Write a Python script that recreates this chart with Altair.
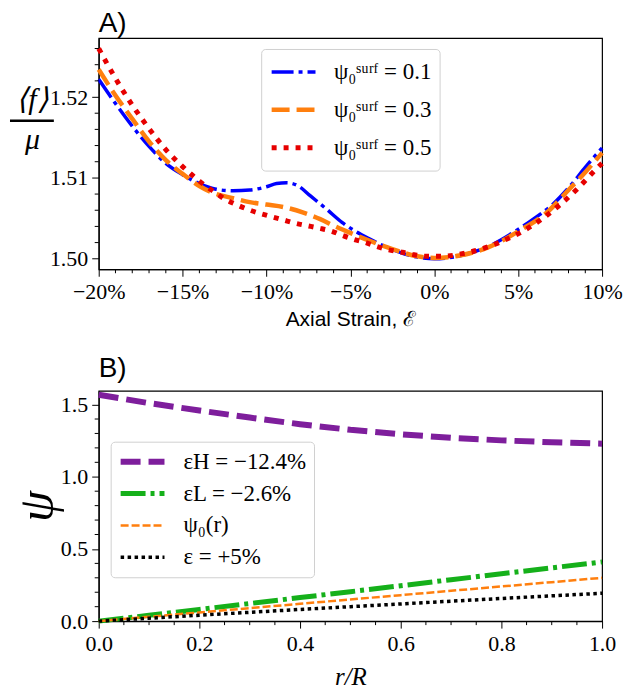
import altair as alt
import pandas as pd

# ---------------- Panel A data ----------------
labels_a = ["ψ₀ˢᵘʳᶠ = 0.1", "ψ₀ˢᵘʳᶠ = 0.3", "ψ₀ˢᵘʳᶠ = 0.5"]
colors_a = ["#0000ff", "#ff7f0e", "#e60000"]
dashes_a = [[22, 5, 4, 5], [18, 7], [5, 7]]
widths_a = [3.5, 4.5, 5]

strain_01 = [-20, -19, -18, -17, -16, -15, -14, -13, -12, -11, -10, -9.4, -8.8, -8.1,
             -7.4, -6.4, -5.5, -4.7, -3.9, -2.7, -1, 0, 1.6, 3.2, 4.9, 5.9, 7.1, 8.1, 9, 10]
f_01 = [1.5222, 1.5192, 1.5164, 1.5139, 1.5118, 1.5104, 1.5093, 1.5086, 1.5084, 1.5085,
        1.5089, 1.5093, 1.5094, 1.5090, 1.5078, 1.5061, 1.5045, 1.5034, 1.5025, 1.5013,
        1.5002, 1.5000, 1.5004, 1.5015, 1.5035, 1.5049, 1.5068, 1.5090, 1.5113, 1.5137]

strain_03 = [-20, -19, -18, -17, -16, -15, -14, -13, -12, -11, -10, -9, -7.8, -6.8, -5.9,
             -4.9, -3.7, -2.5, -1, 0, 1.5, 3.2, 5.1, 6.7, 8, 9, 10]
f_03 = [1.5234, 1.5202, 1.5173, 1.5145, 1.5122, 1.5105, 1.5090, 1.5080, 1.5075, 1.5070,
        1.5067, 1.5064, 1.5057, 1.5049, 1.5040, 1.5031, 1.5021, 1.5012, 1.5003, 1.5001,
        1.5004, 1.5014, 1.5035, 1.5057, 1.5085, 1.5107, 1.5131]

strain_05 = [-20, -19, -18, -17, -16, -15, -14, -13, -12.5, -11.8, -11.1, -9.7, -9, -8.3,
             -7.6, -6.9, -6.1, -5.5, -4.8, -4.1, -3.4, -2.7, -1.9, -1.2, -0.5, 0.5, 1.6,
             3.1, 4.4, 5.1, 6.4, 7.5, 8.6, 9.6, 10]
f_05 = [1.5260, 1.5223, 1.5190, 1.5161, 1.5135, 1.5114, 1.5096, 1.5081, 1.5074, 1.5067,
        1.5061, 1.5052, 1.5048, 1.5044, 1.5041, 1.5038, 1.5034, 1.5029, 1.5024, 1.5020,
        1.5015, 1.5011, 1.5008, 1.5005, 1.5003, 1.5003, 1.5006, 1.5014, 1.5025, 1.5032,
        1.5049, 1.5067, 1.5088, 1.5110, 1.5118]

# ---------------- Panel B data ----------------
labels_b = ["εH = −12.4%", "εL = −2.6%", "ψ₀(r)", "ε = +5%"]
colors_b = ["#7e1e9c", "#15b01a", "#ff7f0e", "#000000"]
dashes_b = [[20, 8], [25, 5, 4, 5], [8, 3], [3.5, 3.5]]
widths_b = [6, 5, 2.5, 3.5]

r_grid = [0, 0.1, 0.2, 0.3, 0.4, 0.5, 0.6, 0.7, 0.8, 0.9, 1.0]
psi_h = [1.568, 1.510, 1.459, 1.410, 1.364, 1.325, 1.294, 1.270, 1.252, 1.239, 1.229]
psi_l = [0.0, 0.040, 0.081, 0.122, 0.163, 0.204, 0.245, 0.287, 0.328, 0.369, 0.410]
psi_0 = [0.0, 0.030, 0.060, 0.090, 0.120, 0.150, 0.180, 0.210, 0.240, 0.270, 0.300]
psi_p = [0.0, 0.020, 0.041, 0.061, 0.081, 0.100, 0.119, 0.138, 0.157, 0.175, 0.193]

# ---------------- ticks ----------------
xmajor_a = [-20, -15, -10, -5, 0, 5, 10]
xminor_a = [v for v in range(-20, 11) if v % 5 != 0]
ymajor_a = [1.50, 1.51, 1.52]
yminor_a = [1.502, 1.504, 1.506, 1.508, 1.512, 1.514, 1.516, 1.518, 1.522, 1.524, 1.526]
xmajor_b = [0.0, 0.2, 0.4, 0.6, 0.8, 1.0]
xminor_b = [0.05, 0.1, 0.15, 0.25, 0.3, 0.35, 0.45, 0.5, 0.55, 0.65, 0.7, 0.75, 0.85, 0.9, 0.95]
ymajor_b = [0.0, 0.5, 1.0, 1.5]
yminor_b = [0.1, 0.2, 0.3, 0.4, 0.6, 0.7, 0.8, 0.9, 1.1, 1.2, 1.3, 1.4]

W, HA, HB = 505, 232, 231
MINOR = 4


def long_table(names, xs_list, ys_list):
    rows = []
    for n, xs, ys in zip(names, xs_list, ys_list):
        for i, (x, y) in enumerate(zip(xs, ys)):
            rows.append({"series": n, "x": x, "y": y, "i": i})
    return pd.DataFrame(rows)


df_a = long_table(labels_a, [strain_01, strain_03, strain_05], [f_01, f_03, f_05])
df_b = long_table(labels_b, [r_grid] * 4, [psi_h, psi_l, psi_0, psi_p])

SERIF = "Liberation Serif"
SANS = "Liberation Sans"


def make_legend(lx, ly, clip_h, row_pad, pad):
    return alt.Legend(
        title=None, orient="none", legendX=lx, legendY=ly, clipHeight=clip_h,
        symbolType="stroke", symbolSize=1936, labelFont=SERIF, labelFontSize=23,
        labelOffset=16, rowPadding=row_pad, padding=pad, strokeColor="#d0d0d0",
        fillColor="#ffffff", cornerRadius=4, labelColor="black",
    )


def minor_layers(xvals, yvals, xscale, yscale, h):
    mx = alt.Chart(pd.DataFrame({"v": xvals})).mark_rule(color="black", strokeWidth=1).encode(
        x=alt.X("v:Q", scale=xscale), y=alt.value(h), y2=alt.value(h + MINOR))
    my = alt.Chart(pd.DataFrame({"w": yvals})).mark_rule(color="black", strokeWidth=1).encode(
        y=alt.Y("w:Q", scale=yscale), x=alt.value(0), x2=alt.value(-MINOR))
    return mx, my


# ---------------- Panel A ----------------
xscale_a = alt.Scale(domain=[-20, 10], nice=False, zero=False)
yscale_a = alt.Scale(domain=[1.4987, 1.5273], nice=False, zero=False)
leg_a = make_legend(163, 11, 30, 8, 8)

lines_a = alt.Chart(df_a).mark_line(interpolate="monotone", strokeCap="butt").encode(
    x=alt.X("x:Q", scale=xscale_a,
            axis=alt.Axis(values=xmajor_a, title="Axial Strain, ℰ",
                          labelExpr="format(datum.value, 'd') + '%'",
                          labelFlush=False, titleFont=SANS, titleFontSize=21,
                          titleFontWeight="normal", titlePadding=6)),
    y=alt.Y("y:Q", scale=yscale_a,
            axis=alt.Axis(values=ymajor_a, format=".2f", title=["⟨f⟩", "μ"],
                          titleAngle=0, titleAlign="center", titleBaseline="middle",
                          titleX=-67, titleY=62, titleFont=SERIF, titleFontSize=30,
                          titleFontStyle="italic", titleFontWeight="normal",
                          titleLineHeight=40)),
    color=alt.Color("series:N", scale=alt.Scale(domain=labels_a, range=colors_a), legend=leg_a),
    strokeDash=alt.StrokeDash("series:N", scale=alt.Scale(domain=labels_a, range=dashes_a), legend=leg_a),
    strokeWidth=alt.StrokeWidth("series:N", scale=alt.Scale(type="ordinal", domain=labels_a, range=widths_a), legend=leg_a),
    order="i:Q",
)
mxa, mya = minor_layers(xminor_a, yminor_a, xscale_a, yscale_a, HA)
frac_bar = alt.Chart(pd.DataFrame({"k": [0]})).mark_rule(color="black", strokeWidth=2.6).encode(
    x=alt.value(-89), x2=alt.value(-45), y=alt.value(83))
chart_a = alt.layer(lines_a, mxa, mya, frac_bar).properties(
    width=W, height=HA,
    title=alt.TitleParams("A)", anchor="start", frame="group", font=SANS, fontSize=28,
                          fontWeight="normal", offset=0, color="black"),
)

# ---------------- Panel B ----------------
xscale_b = alt.Scale(domain=[0, 1], nice=False)
yscale_b = alt.Scale(domain=[0, 1.595], nice=False)
leg_b = make_legend(12, 51, 26, 6, 7)

lines_b = alt.Chart(df_b).mark_line(strokeCap="butt").encode(
    x=alt.X("x:Q", scale=xscale_b,
            axis=alt.Axis(values=xmajor_b, format=".1f", title="r/R", labelFlush=False,
                          titleFont=SERIF, titleFontSize=25, titleFontStyle="italic",
                          titleFontWeight="normal", titlePadding=11)),
    y=alt.Y("y:Q", scale=yscale_b,
            axis=alt.Axis(values=ymajor_b, format=".1f", title="ψ", titleX=-36,
                          titleFont=SERIF, titleFontSize=50, titleFontStyle="italic",
                          titleFontWeight="normal")),
    color=alt.Color("series:N", scale=alt.Scale(domain=labels_b, range=colors_b), legend=leg_b),
    strokeDash=alt.StrokeDash("series:N", scale=alt.Scale(domain=labels_b, range=dashes_b), legend=leg_b),
    strokeWidth=alt.StrokeWidth("series:N", scale=alt.Scale(type="ordinal", domain=labels_b, range=widths_b), legend=leg_b),
    order="i:Q",
)
mxb, myb = minor_layers(xminor_b, yminor_b, xscale_b, yscale_b, HB)
chart_b = alt.layer(lines_b, mxb, myb).properties(
    width=W, height=HB,
    title=alt.TitleParams("B)", anchor="start", frame="group", font=SANS, fontSize=28,
                          fontWeight="normal", offset=0, color="black"),
)

chart = alt.vconcat(chart_a, chart_b, spacing=24).resolve_scale(
    color="independent", strokeDash="independent", strokeWidth="independent"
).resolve_legend(
    color="independent", strokeDash="independent", strokeWidth="independent"
).properties(
    padding={"left": 0, "top": 0, "right": 0, "bottom": 0}
).configure_view(
    stroke="black", strokeWidth=1.2
).configure_axis(
    grid=False, domainColor="black", tickColor="black", labelColor="black",
    titleColor="black", labelFont=SERIF, labelFontSize=22, labelPadding=4,
    domainWidth=1.2, tickWidth=1, tickSize=7,
).configure_axisX(
    labelPadding=5
).configure_legend(
    labelLimit=400
)

chart.save("out.html", embed_options={"renderer": "svg", "actions": False})
